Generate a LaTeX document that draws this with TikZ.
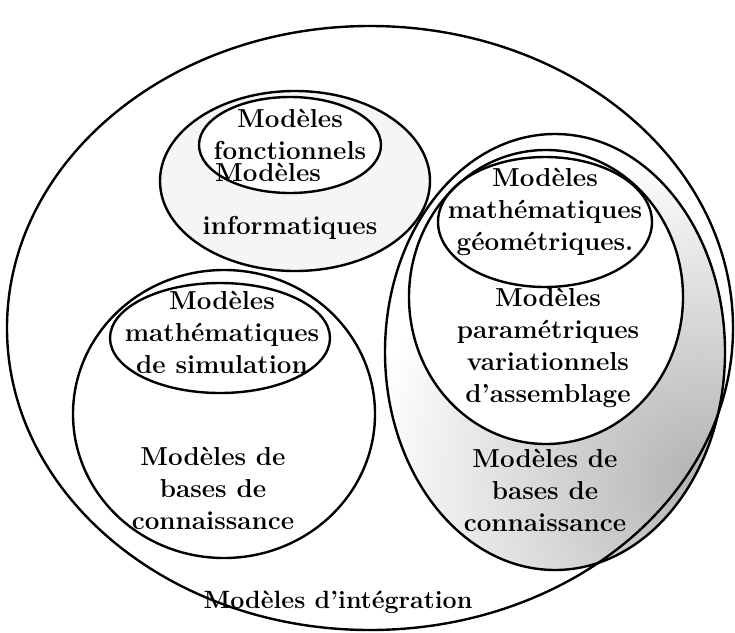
\documentclass[tikz,border=0pt]{standalone}
\usepackage{fontspec}
\begin{document}
\begin{tikzpicture}[x=1pt,y=-1pt,
  ring/.style={line width=2.4pt},
  lbl/.style={align=center,inner sep=0pt,font=\fontsize{26}{32}\selectfont\bfseries}]
\useasboundingbox (0,0) rectangle (735,632);
% shaded parts
\fill[gray!8] (295,181) ellipse [x radius=135pt, y radius=90pt];
\fill[white] (290,145) ellipse [x radius=91pt, y radius=48pt];
\begin{scope}
\clip (555,352) ellipse [x radius=170pt, y radius=218pt];
\shade[inner color=gray!60, outer color=white] (700,480) circle (330pt);
\end{scope}
\fill[white] (546,297) ellipse [x radius=137pt, y radius=147pt];
% ellipses
\draw[ring] (370,328) ellipse [x radius=363pt, y radius=302pt];
\draw[ring] (295,181) ellipse [x radius=135pt, y radius=90pt];
\draw[ring] (290,145) ellipse [x radius=91pt, y radius=48pt];
\draw[ring] (555,352) ellipse [x radius=170pt, y radius=218pt];
\draw[ring] (546,297) ellipse [x radius=137pt, y radius=147pt];
\draw[ring] (545,222) ellipse [x radius=107pt, y radius=65pt];
\draw[ring] (224,414) ellipse [x radius=151pt, y radius=144pt];
\draw[ring] (220,338) ellipse [x radius=110pt, y radius=55pt];
% labels
\node[lbl] (fonct) at (290,134) {Modèles\\fonctionnels};
\node[lbl] (infoA) at (268,172) {Modèles};
\node[lbl] (infoB) at (290,228) {informatiques};
\node[lbl] (geom) at (545,212) {Modèles\\mathématiques\\géométriques.};
\node[lbl] (param) at (548,348) {Modèles\\paramétriques\\variationnels\\d'assemblage};
\node[lbl] (baseR) at (545,490) {Modèles de\\bases de\\connaissance};
\node[lbl] (simu) at (222,332) {Modèles\\mathématiques\\de simulation};
\node[lbl] (baseL) at (213,488) {Modèles de\\bases de\\connaissance};
\node[lbl, font=\fontsize{25}{32}\selectfont\bfseries] (integ) at (338,602) {Modèles d'intégration};
\end{tikzpicture}
\end{document}
